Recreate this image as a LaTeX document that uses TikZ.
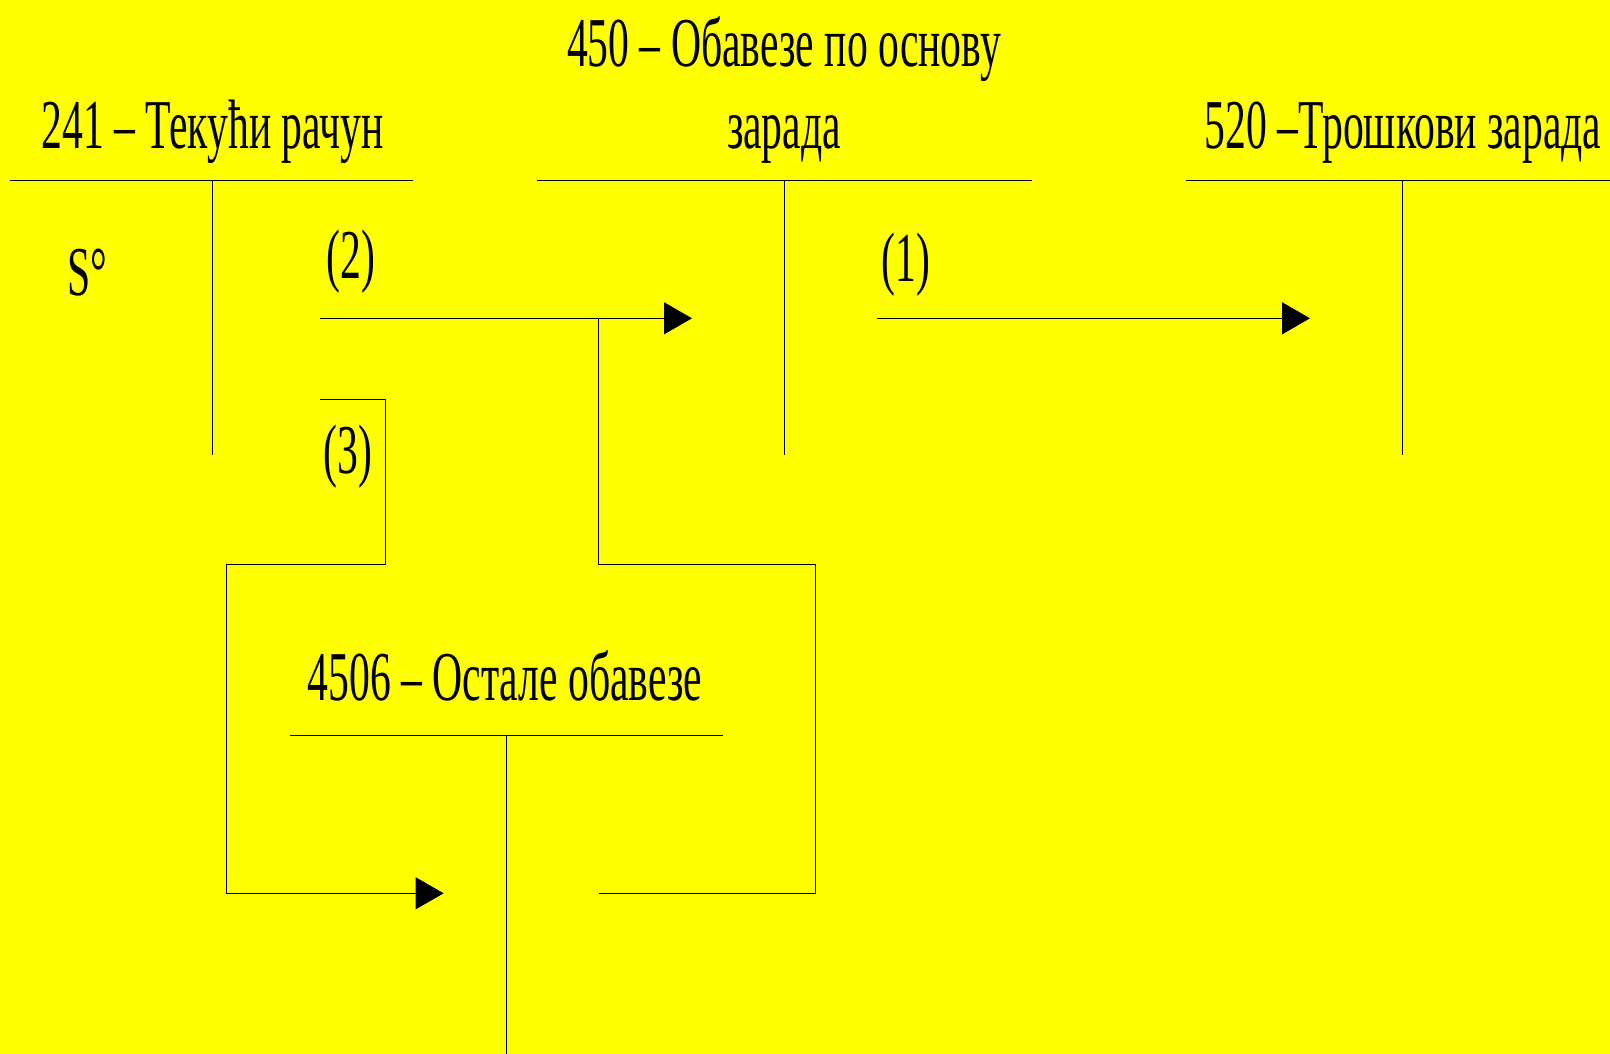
\documentclass[tikz,border=0pt]{standalone}
\usepackage{fontspec}
\setmainfont{Liberation Serif}[FakeStretch=0.595]
\usetikzlibrary{arrows.meta}
\definecolor{bgyellow}{HTML}{FFFF00}
\tikzset{
  acct/.style={line width=1pt, draw=black},
  flow/.style={line width=1pt, draw=black},
  flowarrow/.style={flow, -{Triangle[length=28pt,width=32pt]}},
  title/.style={anchor=base, inner sep=0pt, font=\fontsize{70}{84}\selectfont},
  lbl/.style={anchor=center, inner sep=0pt, font=\fontsize{70}{84}\selectfont}
}
\begin{document}
\begin{tikzpicture}[x=1pt,y=-1pt]
\fill[bgyellow] (0,0) rectangle (1610,1054);
\useasboundingbox (0,0) rectangle (1610,1054);

% --- account 241
\node[title] (t241) at (212.5,149) {241 – Текући рачун};
\coordinate (a241l) at (10.3,180.7);
\coordinate (a241r) at (412.8,180.7);
\coordinate (a241t) at (212.5,180.7);
\coordinate (a241b) at (212.5,454.9);
\draw[acct] (a241l) -- (a241r);
\draw[acct] (a241t) -- (a241b);
\node[title] (s0) at (87,295) {S°};

% --- account 450
\node[title] (t450a) at (784,66.7) {450 – Обавезе по основу};
\node[title] (t450b) at (784,149) {зарада};
\coordinate (a450l) at (537,180.7);
\coordinate (a450r) at (1032,180.7);
\coordinate (a450t) at (784.5,180.7);
\coordinate (a450b) at (784.5,454.9);
\draw[acct] (a450l) -- (a450r);
\draw[acct] (a450t) -- (a450b);

% --- account 520
\node[title] (t520) at (1403,149) {520 –Трошкови зарада};
\coordinate (a520l) at (1186,180.7);
\coordinate (a520r) at (1610,180.7);
\coordinate (a520t) at (1402.6,180.7);
\coordinate (a520b) at (1402.6,454.9);
\draw[acct] (a520l) -- (a520r);
\draw[acct] (a520t) -- (a520b);

% --- account 4506
\node[title] (t4506) at (505,700) {4506 – Остале обавезе};
\coordinate (a4506l) at (289.6,735.2);
\coordinate (a4506r) at (722.9,735.2);
\coordinate (a4506t) at (506.2,735.2);
\coordinate (a4506b) at (506.2,1054.5);
\draw[acct] (a4506l) -- (a4506r);
\draw[acct] (a4506t) -- (a4506b);

% --- flow (1)
\node[lbl] (n1) at (905.6,265) {(1)};
\coordinate (f1s) at (877,318.3);
\coordinate (f1e) at (1310,318.3);
\draw[flowarrow] (f1s) -- (f1e);

% --- flow (2)
\node[lbl] (n2) at (351,262) {(2)};
\coordinate (f2s) at (320.4,318.3);
\coordinate (f2e) at (692,318.3);
\draw[flowarrow] (f2s) -- (f2e);

% --- branch from (2) to 4506 credit side
\coordinate (b1) at (598.6,318.3);
\coordinate (b2) at (598.6,564.7);
\coordinate (b3) at (815.3,564.7);
\coordinate (b4) at (815.3,893.3);
\coordinate (b5) at (598.6,893.3);
\draw[flow] (b1) -- (b2) -- (b3) -- (b4) -- (b5);

% --- flow (3)
\node[lbl] (n3) at (348,457) {(3)};
\coordinate (c1) at (320.4,399.4);
\coordinate (c2) at (385,399.4);
\coordinate (c3) at (385,564.7);
\coordinate (c4) at (226.9,564.7);
\coordinate (c5) at (226.9,893.3);
\coordinate (c6) at (443.6,893.3);
\draw[flowarrow] (c1) -- (c2) -- (c3) -- (c4) -- (c5) -- (c6);
\end{tikzpicture}
\end{document}
